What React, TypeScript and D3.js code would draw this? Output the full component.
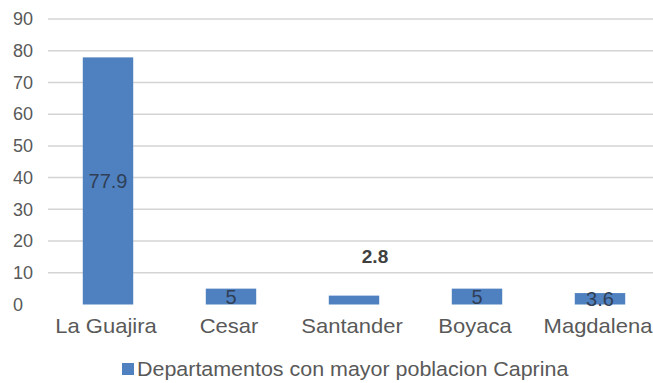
import React from "react";
import * as d3 from "d3";

const categories = ["La Guajira", "Cesar", "Santander", "Boyaca", "Magdalena"];
const values = [77.9, 5, 2.8, 5, 3.6];
const labelInside = [true, true, false, true, true];
const yTicks = [0, 10, 20, 30, 40, 50, 60, 70, 80, 90];
const seriesName = "Departamentos con mayor poblacion Caprina";

const W = 653;
const H = 383;
const FONT = "'Liberation Sans', Arial, sans-serif";
const STRETCH = 1.1;

export default function App() {
  const x = d3
    .scaleBand<string>()
    .domain(categories)
    .range([46.5, 661.5])
    .paddingInner(0.59)
    .paddingOuter(0.295);
  const y = d3.scaleLinear().domain([0, 90]).range([304.5, 19]);

  return (
    <svg width={W} height={H} style={{ position: "absolute", left: 0, top: 0, background: "#fff" }}>
      <rect x={0} y={0} width={W} height={H} fill="#fff" />
      {yTicks.map((t) => (
        <g key={t}>
          {t > 0 && (
            <line x1={48} x2={W} y1={y(t)} y2={y(t)} stroke="#d4d4d4" strokeWidth={1.5} />
          )}
          <text
            x={13}
            y={y(t)}
            dy="0.35em"
            fontFamily={FONT}
            fontSize={18}
            fill="#595959"
          >
            {t}
          </text>
        </g>
      ))}
      {categories.map((c, i) => {
        const bx = x(c)!;
        const bw = x.bandwidth();
        const v = values[i];
        const cx = bx + bw / 2;
        return (
          <g key={c}>
            <rect x={bx} y={y(v)} width={bw} height={y(0) - y(v)} fill="#4f81c1" />
            {labelInside[i] ? (
              <text
                x={cx}
                y={(y(v) + y(0)) / 2}
                dy="0.35em"
                textAnchor="middle"
                fontFamily={FONT}
                fontSize={20}
                fill="#2f3f56"
              >
                {v}
              </text>
            ) : (
              <text
                x={cx + 21}
                y={y(v) - 33}
                textAnchor="middle"
                fontFamily={FONT}
                fontSize={19}
                fontWeight="bold"
                fill="#404040"
              >
                {v}
              </text>
            )}
            <text
              transform={`translate(${cx - 2},333) scale(${STRETCH},1)`}
              textAnchor="middle"
              fontFamily={FONT}
              fontSize={20}
              fill="#595959"
            >
              {c}
            </text>
          </g>
        );
      })}
      <rect x={122} y={363} width={12} height={12} fill="#4f81c1" />
      <text
        transform={`translate(137,376) scale(${STRETCH},1)`}
        fontFamily={FONT}
        fontSize={19.5}
        fill="#595959"
      >
        {seriesName}
      </text>
    </svg>
  );
}
